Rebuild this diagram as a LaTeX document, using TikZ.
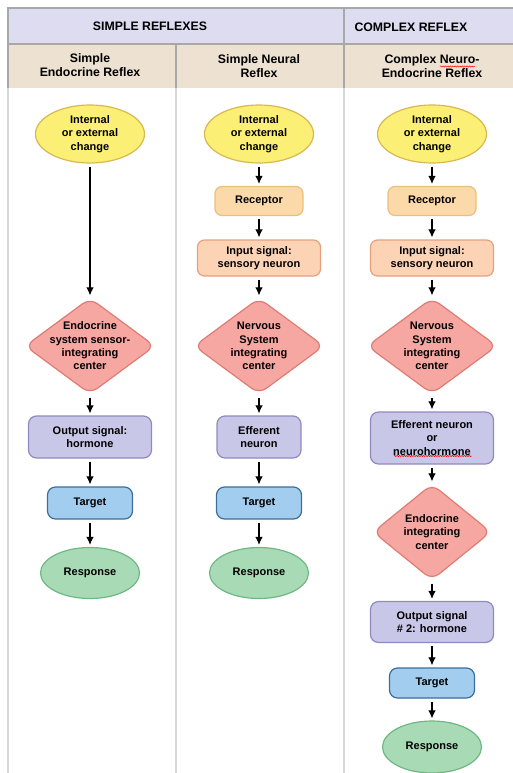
\documentclass[tikz,border=0pt]{standalone}
\usepackage{fontspec}
\setmainfont{Liberation Sans}
\usetikzlibrary{shapes.geometric,decorations.pathmorphing,arrows.meta}

\begin{document}
\begin{tikzpicture}[x=1pt,y=-1pt,>={Latex[length=8pt,width=7.5pt]},
        texto/.style={align=center,font=\bfseries\fontsize{11}{13.3}\selectfont},
        titulo/.style={align=center,font=\bfseries\fontsize{12.3}{14}\selectfont},
        borde/.style={line width=1.2pt},
        cambio/.style={texto,borde,ellipse,draw=amarilloB,fill=amarillo,inner sep=0pt,minimum width=109pt,minimum height=58pt},
        receptor/.style={texto,borde,draw=naranjaB,fill=naranja,rounded corners=7pt,minimum width=88pt,minimum height=29pt},
        entrada/.style={texto,borde,draw=durazB,fill=durazno,rounded corners=7pt,minimum width=123pt,minimum height=36pt},
        centro/.style={borde,diamond,draw=rosaB,fill=rosa,rounded corners=9pt,inner sep=0pt,minimum width=130pt,minimum height=96pt},
        salida/.style={texto,borde,draw=moradoB,fill=morado,rounded corners=8pt,minimum height=42pt},
        blanco/.style={texto,borde,draw=azulB,fill=azul,rounded corners=8pt,minimum width=85pt,minimum height=32pt},
        respuesta/.style={texto,borde,ellipse,draw=verdeB,fill=verde,inner sep=0pt,minimum width=99pt,minimum height=51pt},
        flecha/.style={->,line width=1.1pt,shorten <=3pt,shorten >=2pt},
        raya/.style={red,line width=0.5pt,decorate,decoration={snake,segment length=2.4pt,amplitude=0.6pt}}]
        %colores
        \definecolor{lila}{HTML}{DDDCF0}
        \definecolor{beige}{HTML}{EDE2D2}
        \definecolor{gris}{HTML}{A8A8A8}
        \definecolor{grisC}{HTML}{D6D6D6}
        \definecolor{amarillo}{HTML}{FBEF76}
        \definecolor{amarilloB}{HTML}{D9B850}
        \definecolor{naranja}{HTML}{FCD9A8}
        \definecolor{naranjaB}{HTML}{EBC07A}
        \definecolor{durazno}{HTML}{FDD3B5}
        \definecolor{durazB}{HTML}{E89F7E}
        \definecolor{rosa}{HTML}{F6A7A1}
        \definecolor{rosaB}{HTML}{DE7C74}
        \definecolor{morado}{HTML}{C9C7E8}
        \definecolor{moradoB}{HTML}{9089C0}
        \definecolor{azul}{HTML}{A3CDEE}
        \definecolor{azulB}{HTML}{3C6E9A}
        \definecolor{verde}{HTML}{A7DAB5}
        \definecolor{verdeB}{HTML}{6DB883}

        \useasboundingbox (0,0) rectangle (513,773);

        % Encabezados
        \fill[lila] (8,8) rectangle (513,44);
        \fill[beige] (8,44) rectangle (513,88);
        \draw[grisC,line width=2.5pt] (8,88) -- (8,773) (176,88) -- (176,773) (344,88) -- (344,773);
        \draw[gris,line width=2pt] (513,8) -- (8,8) -- (8,88) (8,44) -- (513,44) (176,44) -- (176,88) (344,8) -- (344,88);

        \node[titulo] (simples) at (150,26) {SIMPLE REFLEXES};
        \node[titulo,anchor=west] (complejo) at (351,27) {COMPLEX REFLEX};
        \node[titulo] (col1) at (90,65) {Simple\\Endocrine Reflex};
        \node[titulo] (col2) at (259,66) {Simple Neural\\Reflex};
        \node[titulo] (col3) at (432,66) {Complex Neuro-\\Endocrine Reflex};

        % Columna 1
        \node[cambio] (c1) at (90,134) {Internal\\or external\\change};
        \node[centro,label={[texto]center:Endocrine\\system sensor-\\integrating\\center}] (d1) at (90,346) {};
        \node[salida,minimum width=123pt] (s1) at (90,437) {Output signal:\\hormone};
        \node[blanco] (t1) at (90,503) {Target};
        \node[respuesta] (r1) at (90,573) {Response};

        % Columna 2
        \node[cambio] (c2) at (259,134) {Internal\\or external\\change};
        \node[receptor] (rec2) at (259,201) {Receptor};
        \node[entrada] (in2) at (259,258) {Input signal:\\sensory neuron};
        \node[centro,label={[texto]center:Nervous\\System\\integrating\\center}] (d2) at (259,346) {};
        \node[salida,minimum width=84pt] (e2) at (259,437) {Efferent\\neuron};
        \node[blanco] (t2) at (259,503) {Target};
        \node[respuesta] (r2) at (259,573) {Response};

        % Columna 3
        \node[cambio] (c3) at (432,134) {Internal\\or external\\change};
        \node[receptor] (rec3) at (432,201) {Receptor};
        \node[entrada] (in3) at (432,258) {Input signal:\\sensory neuron};
        \node[centro,label={[texto]center:Nervous\\System\\integrating\\center}] (d3) at (432,346) {};
        \node[salida,minimum width=123pt,minimum height=52pt] (e3) at (432,438) {Efferent neuron\\or\\neurohormone};
        \node[centro,minimum width=118pt,label={[texto]center:Endocrine\\integrating\\center}] (d4) at (432,532) {};
        \node[salida,minimum width=123pt,minimum height=41pt] (s3) at (432,622) {Output signal\\\# 2: hormone};
        \node[blanco,minimum height=30pt] (t3) at (432,683) {Target};
        \node[respuesta,minimum height=52pt] (r3) at (432,747) {Response};

        % Flechas
        \foreach \a/\b in {c1/d1,d1/s1,s1/t1,t1/r1,
                           c2/rec2,rec2/in2,in2/d2,d2/e2,e2/t2,t2/r2,
                           c3/rec3,rec3/in3,in3/d3,d3/e3,e3/d4,d4/s3,s3/t3,t3/r3}
            \draw[flecha] (\a) -- (\b);

        % subrayado rojo
        \draw[raya] (440,66.5) -- (475,66.5);
        \draw[raya] (394,456) -- (472,456);
    \end{tikzpicture}
\end{document}
